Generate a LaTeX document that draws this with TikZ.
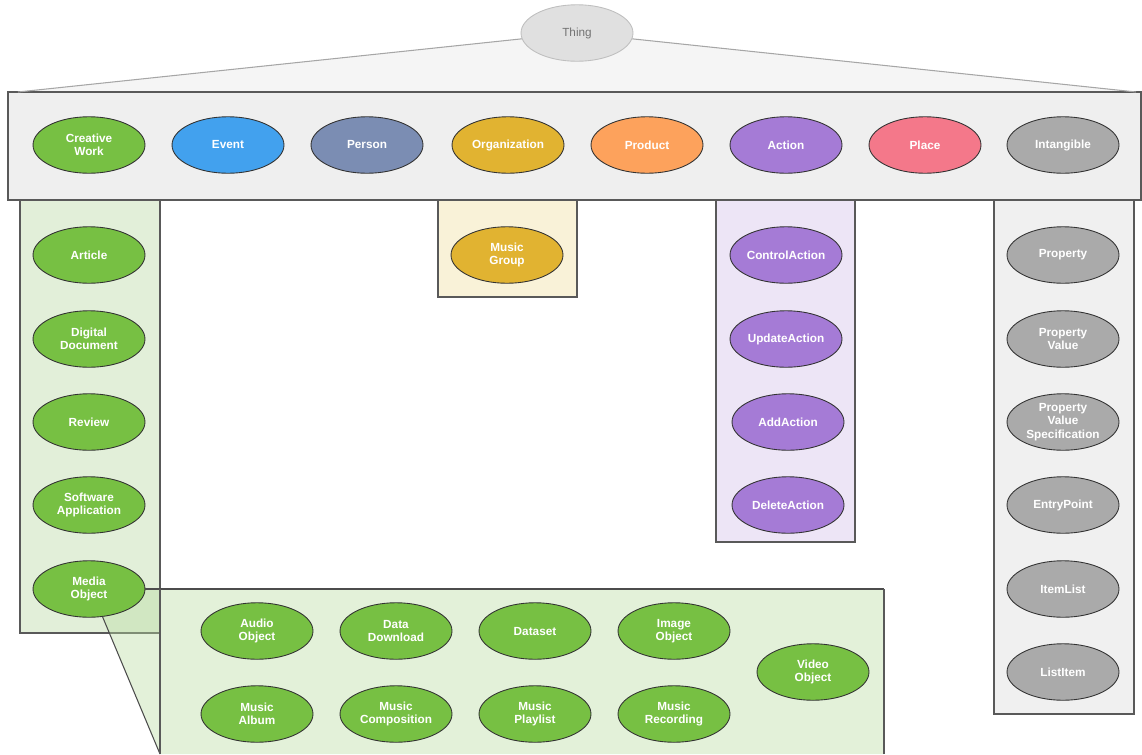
\documentclass[tikz,border=0pt]{standalone}
\usepackage{fontspec}
\setmainfont{Liberation Sans}
\usetikzlibrary{shapes.geometric, backgrounds}
\definecolor{cwgreen}{RGB}{119,192,67}
\definecolor{evblue}{RGB}{66,161,238}
\definecolor{peslate}{RGB}{123,141,179}
\definecolor{orgold}{RGB}{225,179,49}
\definecolor{prorange}{RGB}{253,162,92}
\definecolor{acpurple}{RGB}{165,123,214}
\definecolor{plpink}{RGB}{244,120,138}
\definecolor{ingray}{RGB}{170,170,170}
\definecolor{thinggray}{RGB}{224,224,224}
\definecolor{bandgray}{RGB}{239,239,239}
\definecolor{colgreen}{RGB}{226,239,217}
\definecolor{mediagreen}{RGB}{185,220,160}
\definecolor{colgold}{RGB}{249,242,216}
\definecolor{colpurple}{RGB}{237,229,246}
\definecolor{colgray}{RGB}{240,240,240}
\tikzstyle{cls} = [ellipse, minimum width=2.24cm, minimum height=1.13cm, inner sep=0pt, draw=black!80, line width=0.5pt, text=white, align=center, font=\fontsize{6.7}{7.6}\selectfont\bfseries]
\tikzstyle{thingcls} = [cls, fill=thinggray, draw=black!25, text=black!55, font=\fontsize{6.7}{7.6}\selectfont]
\tikzstyle{panel} = [draw=black!65, line width=0.7pt]
\tikzstyle{link} = [draw=black!70, line width=0.6pt]

\begin{document}
\begin{tikzpicture}[x=0.02cm, y=-0.02cm]
  \useasboundingbox (0,0) rectangle (1142,754);

  % root and first level
  \node (thing) [thingcls] at (577,33) {Thing};
  \node (cw) [cls, fill=cwgreen] at (89,145) {Creative\\Work};
  \node (event) [cls, fill=evblue] at (228,145) {Event};
  \node (person) [cls, fill=peslate] at (367,145) {Person};
  \node (org) [cls, fill=orgold] at (508,145) {Organization};
  \node (product) [cls, fill=prorange] at (647,145) {Product};
  \node (action) [cls, fill=acpurple] at (786,145) {Action};
  \node (place) [cls, fill=plpink] at (925,145) {Place};
  \node (intang) [cls, fill=ingray] at (1063,145) {Intangible};

  % creative works
  \node (article) [cls, fill=cwgreen] at (89,255) {Article};
  \node (digdoc) [cls, fill=cwgreen] at (89,339) {Digital\\Document};
  \node (review) [cls, fill=cwgreen] at (89,422) {Review};
  \node (softapp) [cls, fill=cwgreen] at (89,505) {Software\\Application};
  \node (media) [cls, fill=cwgreen] at (89,589) {Media\\Object};

  % media objects
  \node (audio) [cls, fill=cwgreen] at (257,631) {Audio\\Object};
  \node (datadl) [cls, fill=cwgreen] at (396,631) {Data\\Download};
  \node (dataset) [cls, fill=cwgreen] at (535,631) {Dataset};
  \node (image) [cls, fill=cwgreen] at (674,631) {Image\\Object};
  \node (album) [cls, fill=cwgreen] at (257,714) {Music\\Album};
  \node (compo) [cls, fill=cwgreen] at (396,714) {Music\\Composition};
  \node (playlist) [cls, fill=cwgreen] at (535,714) {Music\\Playlist};
  \node (record) [cls, fill=cwgreen] at (674,714) {Music\\Recording};
  \node (video) [cls, fill=cwgreen] at (813,672) {Video\\Object};

  % organization
  \node (group) [cls, fill=orgold] at (507,255) {Music\\Group};

  % actions
  \node (ctrl) [cls, fill=acpurple] at (786,255) {ControlAction};
  \node (update) [cls, fill=acpurple] at (786,339) {UpdateAction};
  \node (add) [cls, fill=acpurple] at (788,422) {AddAction};
  \node (delete) [cls, fill=acpurple] at (788,505) {DeleteAction};

  % intangibles
  \node (prop) [cls, fill=ingray] at (1063,255) {Property};
  \node (propval) [cls, fill=ingray] at (1063,339) {Property\\Value};
  \node (propspec) [cls, fill=ingray] at (1063,422) {Property\\Value\\Specification};
  \node (entry) [cls, fill=ingray] at (1063,505) {EntryPoint};
  \node (itemlist) [cls, fill=ingray] at (1063,589) {ItemList};
  \node (listitem) [cls, fill=ingray] at (1063,672) {ListItem};

  \coordinate (bandl) at (18,92);
  \coordinate (bandr) at (1136,92);
  \coordinate (mediatr) at (884,589);
  \coordinate (mediabl) at (160,754);

  \draw [link, draw=black!35] (thing) -- (bandl);
  \draw [link, draw=black!35] (thing) -- (bandr);
  \draw [link] (media.east) -- (mediatr);
  \draw [link] (media.296) -- (mediabl);
  \draw [panel] (160,589) -- (mediabl);
  \draw [panel] (mediatr) -- (884,754);

  \begin{scope}[on background layer]
    \fill [black!4] (thing.center) -- (bandl) -- (bandr) -- cycle;
    \draw [panel, fill=bandgray] (8,92) rectangle (1141,200);
    \draw [panel, fill=colgreen] (20,200) rectangle (160,633);
    \draw [panel, fill=colgold] (438,200) rectangle (577,297);
    \draw [panel, fill=colpurple] (716,200) rectangle (855,542);
    \draw [panel, fill=colgray] (994,200) rectangle (1134,714);
    \fill [mediagreen, fill opacity=0.4] (media.east) -- (mediatr) -- (884,754) -- (mediabl) -- (media.296) -- (media.center) -- cycle;
  \end{scope}
\end{tikzpicture}
\end{document}
